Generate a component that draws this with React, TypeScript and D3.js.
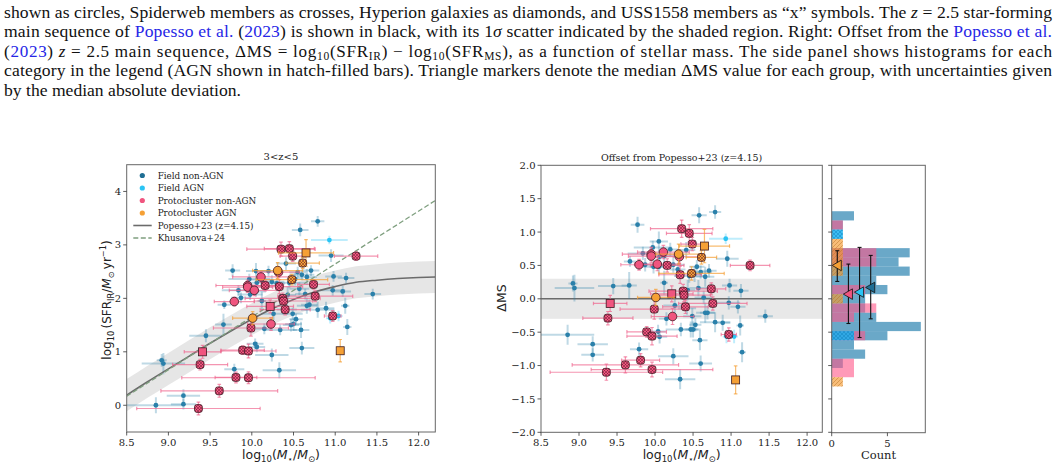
import React from "react";
import * as d3 from "d3";

// [mass, massErr, log SFR, dMS, yErr]
type Pt = [number, number, number, number, number];
// [mass, massErr, log SFR, dMS, yErr, shape]  c = circle, s = square, x = hatched
type PcPt = [number, number, number, number, number, string];

const fieldNonAgn: Pt[] = [
  [9.77, 0.09, 2.52, 1.11, 0.12], [10.58, 0.1, 3.28, 1.25, 0.12], [10.79, 0.08, 3.44, 1.3, 0.1],
  [10.05, 0.12, 2.51, 0.86, 0.15], [9.97, 0.25, 2.36, 0.77, 0.1], [10.2, 0.1, 2.51, 0.74, 0.1],
  [9.84, 0.2, 2.15, 0.68, 0.1], [10.12, 0.15, 2.35, 0.64, 0.12], [10.41, 0.12, 2.65, 0.73, 0.12],
  [9.67, 0.08, 1.88, 0.56, 0.08], [9.87, 0.12, 2.01, 0.51, 0.1], [9.98, 0.15, 2.07, 0.48, 0.1],
  [10.05, 0.12, 2.13, 0.48, 0.1], [10.24, 0.15, 2.31, 0.51, 0.12], [10.55, 0.1, 2.49, 0.48, 0.1],
  [10.95, 0.15, 2.8, 0.6, 0.12], [10.66, 0.12, 2.4, 0.33, 0.15], [10.71, 0.1, 2.52, 0.42, 0.1],
  [10.6, 0.15, 2.44, 0.4, 0.1], [10.45, 0.2, 2.29, 0.34, 0.1], [10.3, 0.1, 2.28, 0.44, 0.1],
  [10.52, 0.1, 2.36, 0.37, 0.12], [8.92, 0.06, 0.84, 0.23, 0.12], [8.94, 0.26, 0.78, 0.16, 0.2],
  [9.45, 0.2, 1.3, 0.19, 0.12], [9.66, 0.1, 1.51, 0.2, 0.2], [10.12, 0.05, 1.95, 0.24, 0.18],
  [10.57, 0.12, 2.18, 0.16, 0.12], [10.98, 0.1, 2.41, 0.2, 0.1], [11.13, 0.1, 2.38, 0.12, 0.1],
  [10.64, 0.12, 2.08, 0.02, 0.1], [10.26, 0.15, 1.71, -0.1, 0.12], [11.09, 0.1, 2.13, -0.12, 0.1],
  [10.97, 0.15, 2.15, -0.06, 0.1], [10.66, 0.12, 1.86, -0.21, 0.15], [10.69, 0.1, 1.88, -0.21, 0.1],
  [11.45, 0.1, 2.08, -0.26, 0.1], [10.49, 0.12, 1.71, -0.26, 0.12], [10.15, 0.1, 1.43, -0.3, 0.1],
  [8.85, 0.35, 0.0, -0.54, 0.15], [9.18, 0.2, 0.18, -0.68, 0.12], [9.18, 0.15, 0.02, -0.84, 0.1],
  [9.79, 0.12, 0.675, -0.755, 0.1], [10.04, 0.1, 1.15, -0.49, 0.1], [10.06, 0.1, 1.09, -0.57, 0.1],
  [10.24, 0.2, 0.94, -0.86, 0.12], [10.33, 0.2, 0.655, -1.205, 0.15], [10.34, 0.2, 1.41, -0.46, 0.1],
  [10.47, 0.1, 1.5, -0.46, 0.12], [10.5, 0.1, 1.52, -0.46, 0.12], [10.53, 0.08, 1.61, -0.39, 0.1],
  [10.59, 0.1, 1.41, -0.62, 0.15], [10.6, 0.15, 1.07, -0.97, 0.12], [10.79, 0.2, 1.785, -0.35, 0.15],
  [10.89, 0.1, 1.815, -0.36, 0.12], [11.12, 0.05, 1.86, -0.4, 0.15], [11.145, 0.05, 1.465, -0.8, 0.15],
  [10.43, 0.1, 2.065, 0.13, 0.15], [10.42, 0.12, 1.79, -0.14, 0.1], [10.06, 0.1, 2.29, 0.63, 0.1],
];

const fieldAgn: Pt[] = [
  [10.93, 0.22, 3.09, 0.9, 0.08],
  [10.94, 0.05, 1.63, -0.565, 0.1],
  [11.04, 0.05, 1.67, -0.565, 0.1],
];

const protoNonAgn: PcPt[] = [
  [10.35, 0.41, 2.92, 1.05, 0.13, "x"], [10.45, 0.3, 2.93, 0.98, 0.13, "x"], [10.49, 0.15, 2.79, 0.82, 0.1, "x"],
  [9.95, 0.38, 2.24, 0.67, 0.1, "c"], [9.95, 0.3, 2.21, 0.64, 0.1, "c"], [10.11, 0.34, 2.4, 0.7, 0.1, "c"],
  [9.79, 0.24, 1.94, 0.51, 0.08, "c"], [10.03, 0.3, 2.15, 0.52, 0.1, "c"], [10.16, 0.22, 2.24, 0.5, 0.1, "x"],
  [10.32, 0.25, 2.49, 0.63, 0.1, "c"], [10.33, 0.28, 2.22, 0.36, 0.13, "x"], [11.25, 0.26, 2.79, 0.5, 0.08, "x"],
  [10.37, 0.45, 2.0, 0.115, 0.1, "x"], [10.38, 0.35, 1.95, 0.055, 0.1, "x"], [10.74, 0.19, 2.26, 0.15, 0.09, "x"],
  [10.22, 0.28, 1.85, 0.075, 0.12, "s"], [9.41, 0.22, 1.0, -0.07, 0.12, "s"], [9.99, 0.45, 1.445, -0.155, 0.15, "x"],
  [10.4, 0.3, 1.79, -0.12, 0.1, "x"], [10.76, 0.45, 2.04, -0.07, 0.1, "x"], [10.23, 0.28, 1.52, -0.265, 0.12, "c"],
  [9.38, 0.33, 0.76, -0.29, 0.1, "x"], [9.89, 0.26, 1.03, -0.495, 0.08, "x"], [9.96, 0.33, 1.015, -0.56, 0.13, "x"],
  [10.97, 0.1, 1.67, -0.535, 0.1, "x"], [9.61, 0.7, 0.27, -0.99, 0.12, "x"], [9.81, 0.25, 0.52, -0.92, 0.1, "x"],
  [9.36, 0.74, -0.06, -1.1, 0.12, "x"], [9.96, 0.8, 0.515, -1.06, 0.11, "x"],
];

const protoAgn: PcPt[] = [
  [10.65, 0.33, 2.85, 0.79, 0.25, "s"], [10.31, 0.3, 2.52, 0.67, 0.15, "c"], [10.61, 0.2, 2.66, 0.62, 0.1, "x"],
  [10.48, 0.43, 2.35, 0.38, 0.1, "x"], [10.01, 0.24, 1.63, 0.02, 0.12, "c"], [11.06, 0.03, 1.02, -1.215, 0.21, "s"],
];

// Popesso+23 main sequence at z=4.15
const msMass = [8.5, 8.75, 9.0, 9.25, 9.5, 9.75, 10.0, 10.25, 10.5, 10.75, 11.0, 11.25, 11.5, 11.75, 12.0, 12.2];
const msSfr = [0.19, 0.44, 0.68, 0.92, 1.16, 1.39, 1.61, 1.81, 1.98, 2.12, 2.22, 2.3, 2.34, 2.37, 2.39, 2.4];
const msScatter = 0.3;
// Khusanova+24 relation
const khMass = [8.5, 12.2];
const khSfr = [0.17, 3.83];

const massTicks = [8.5, 9.0, 9.5, 10.0, 10.5, 11.0, 11.5, 12.0];
const sfrTicks = [0, 1, 2, 3, 4];
const dmsTicks = [-2, -1.5, -1, -0.5, 0, 0.5, 1, 1.5, 2];
const countTicks = [0, 5];

// side histogram (shared bin edges, top to bottom) and counts per group
const histEdges = [1.312, 1.174, 1.036, 0.897, 0.759, 0.621, 0.483, 0.345, 0.207, 0.069, -0.069,
  -0.207, -0.346, -0.484, -0.622, -0.76, -0.898, -1.036, -1.175, -1.313];
const histFieldNonAgn = [2, 1, 0, 0, 7, 6, 7, 4, 5, 3, 3, 4, 8, 5, 2, 3, 1, 0, 0];
const histFieldAgn = [0, 0, 1, 0, 0, 0, 0, 0, 0, 0, 0, 0, 0, 2, 0, 0, 0, 0, 0];
const histProtoNonAgn = [0, 1, 0, 0, 4, 4, 0, 0, 3, 0, 4, 2, 0, 3, 0, 0, 2, 2, 0];
const histProtoAgn = [0, 0, 0, 1, 1, 1, 1, 0, 0, 1, 0, 0, 0, 0, 0, 0, 0, 0, 1];

// medians with MAD (order: protocluster AGN, protocluster non-AGN, field AGN, field non-AGN)
const medianCount = [0.5, 1.5, 2.5, 3.5];
const medianDms = [0.5, 0.07, 0.1, 0.17];
const medianLo = [0.26, -0.37, -0.58, -0.3];
const medianHi = [0.72, 0.52, 0.77, 0.65];

const legendLabels = ["Field non-AGN", "Field AGN", "Protocluster non-AGN", "Protocluster AGN", "Popesso+23 (z=4.15)", "Khusanova+24"];

const C_FIELD = "#2a80aa";
const C_FIELD_LEG = "#1f6e94";
const C_AGN = "#2bc4f4";
const C_PINK = "#f0557f";
const C_ORANGE = "#f5a035";
const EDGE = "#3a1a22";
const SPINE = "#666";
const SERIF = { fontFamily: "DejaVu Serif" };
const SANS = { fontFamily: "DejaVu Sans" };
const TIMES = { fontFamily: "Liberation Serif" };
const LINK = "#2626e6";

const xL = d3.scaleLinear().domain([8.5, 12.2]).range([126.7, 435.3]);
const yL = d3.scaleLinear().domain([-0.5, 4.5]).range([432, 164.7]);
const xR = d3.scaleLinear().domain([8.5, 12.2]).range([541, 822.3]);
const yR = d3.scaleLinear().domain([-2, 2]).range([432.3, 165.3]);
const xH = d3.scaleLinear().domain([0, 8.4]).range([831.7, 925.3]);

const f1 = d3.format(".1f");

type Seg = { t: string; c?: boolean; i?: boolean; sub?: boolean };
const textLines: Seg[][] = [
  [{ t: "shown as circles, Spiderweb members as crosses, Hyperion galaxies as diamonds, and USS1558 members as \u201cx\u201d symbols. The " },
    { t: "z", i: true }, { t: " = 2.5 star-forming" }],
  [{ t: "main sequence of " }, { t: "Popesso et al.", c: true }, { t: " (" }, { t: "2023", c: true },
    { t: ") is shown in black, with its 1" }, { t: "\u03c3", i: true },
    { t: " scatter indicated by the shaded region. Right: Offset from the " }, { t: "Popesso et al.", c: true }],
  [{ t: "(" }, { t: "2023", c: true }, { t: ") " }, { t: "z", i: true }, { t: " = 2.5 main sequence, \u0394MS = log" },
    { t: "10", sub: true }, { t: "(SFR" }, { t: "IR", sub: true }, { t: ") \u2212 log" }, { t: "10", sub: true },
    { t: "(SFR" }, { t: "MS", sub: true }, { t: "), as a function of stellar mass. The side panel shows histograms for each" }],
  [{ t: "category in the legend (AGN shown in hatch-filled bars). Triangle markers denote the median \u0394MS value for each group, with uncertainties given" }],
  [{ t: "by the median absolute deviation." }],
];

function Paragraph() {
  return (
    <g style={TIMES} fontSize={17.6} fill="#111">
      {textLines.map((segs, li) => {
        let shifted = false;
        const justify = li < textLines.length - 1;
        return (
          <text key={li} x={4} y={18 + li * 19.4} fontSize={li === 2 ? 17.1 : undefined}
            {...(justify ? { textLength: 1048, lengthAdjust: "spacing" } : {})}>
            {segs.map((s, si) => {
              let dy = 0;
              if (s.sub && !shifted) { dy = 3.5; shifted = true; }
              else if (!s.sub && shifted) { dy = -3.5; shifted = false; }
              return (
                <tspan key={si} dy={dy || undefined} fill={s.c ? LINK : undefined}
                  fontStyle={s.i ? "italic" : undefined} fontSize={s.sub ? 11.5 : undefined}>
                  {s.t}
                </tspan>
              );
            })}
          </text>
        );
      })}
    </g>
  );
}

function Marker({ x, y, shape, fill }: { x: number; y: number; shape: string; fill: string }) {
  if (shape === "c") return <circle cx={x} cy={y} r={4.3} fill={fill} stroke={EDGE} strokeWidth={0.8} />;
  if (shape === "s") return <rect x={x - 4} y={y - 4} width={8} height={8} fill={fill} stroke={EDGE} strokeWidth={0.8} />;
  return (
    <g>
      <rect x={x - 3.9} y={y - 3.9} width={7.8} height={7.8} rx={2.4} fill={fill} stroke={EDGE} strokeWidth={0.8} />
      <rect x={x - 3.9} y={y - 3.9} width={7.8} height={7.8} rx={2.4} fill="url(#mhatch)" />
    </g>
  );
}

function FieldPoints({ pts, xs, ys, yi, color }: { pts: Pt[]; xs: any; ys: any; yi: number; color: string }) {
  return (
    <g>
      {pts.map((p, i) => {
        const x = xs(p[0]), y = ys(p[yi]);
        return (
          <g key={i} stroke={color} strokeOpacity={0.3} strokeWidth={2}>
            <line x1={xs(p[0] - p[1])} x2={xs(p[0] + p[1])} y1={y} y2={y} />
            <line x1={x} x2={x} y1={ys(p[yi] - p[4])} y2={ys(p[yi] + p[4])} />
          </g>
        );
      })}
      {pts.map((p, i) => (
        <circle key={i} cx={xs(p[0])} cy={ys(p[yi])} r={2.4} fill={color} />
      ))}
    </g>
  );
}

function ProtoPoints({ pts, xs, ys, yi, color, err }: { pts: PcPt[]; xs: any; ys: any; yi: number; color: string; err: string }) {
  return (
    <g>
      {pts.map((p, i) => {
        const x = xs(p[0]), y = ys(p[yi]);
        const x0 = xs(p[0] - p[1]), x1 = xs(p[0] + p[1]);
        const y0 = ys(p[yi] - p[4]), y1 = ys(p[yi] + p[4]);
        return (
          <g key={i} stroke={err} strokeOpacity={0.7} strokeWidth={1.2}>
            <line x1={x0} x2={x1} y1={y} y2={y} />
            <line x1={x} x2={x} y1={y0} y2={y1} />
            <line x1={x0} x2={x0} y1={y - 1.8} y2={y + 1.8} />
            <line x1={x1} x2={x1} y1={y - 1.8} y2={y + 1.8} />
            <line x1={x - 1.8} x2={x + 1.8} y1={y0} y2={y0} />
            <line x1={x - 1.8} x2={x + 1.8} y1={y1} y2={y1} />
          </g>
        );
      })}
      {pts.map((p, i) => (
        <Marker key={i} x={xs(p[0])} y={ys(p[yi])} shape={p[5]} fill={color} />
      ))}
    </g>
  );
}

function Frame({ xs, ys }: { xs: any; ys: any }) {
  const [x0, x1] = xs.range();
  const [y1, y0] = ys.range();
  return <rect x={x0} y={y0} width={x1 - x0} height={y1 - y0} fill="none" stroke={SPINE} strokeWidth={1} />;
}

function XAxis({ xs, y, ticks, fmt }: { xs: any; y: number; ticks: number[]; fmt: (v: number) => string }) {
  return (
    <g>
      {ticks.map((t) => (
        <g key={t}>
          <line x1={xs(t)} x2={xs(t)} y1={y} y2={y + 3.5} stroke="#333" strokeWidth={0.8} />
          <text x={xs(t)} y={y + 14} textAnchor="middle" style={SERIF} fontSize={10} fill="#222">{fmt(t)}</text>
        </g>
      ))}
    </g>
  );
}

function YAxis({ ys, x, ticks, fmt }: { ys: any; x: number; ticks: number[]; fmt?: (v: number) => string }) {
  return (
    <g>
      {ticks.map((t) => (
        <g key={t}>
          <line x1={x - 3.5} x2={x} y1={ys(t)} y2={ys(t)} stroke="#333" strokeWidth={0.8} />
          {fmt && (
            <text x={x - 5.5} y={ys(t) + 3.6} textAnchor="end" style={SERIF} fontSize={10} fill="#222">{fmt(t)}</text>
          )}
        </g>
      ))}
    </g>
  );
}

function MassLabel({ cx }: { cx: number }) {
  return (
    <text x={cx} y={459} textAnchor="middle" style={SANS} fontSize={12.5} fill="#222">
      log<tspan dy={3} fontSize={8.5}>10</tspan><tspan dy={-3}>(</tspan>
      <tspan fontStyle="italic">M</tspan><tspan dy={2.5} fontSize={8.5}>{"\u22c6"}</tspan>
      <tspan dy={-2.5}>/</tspan><tspan fontStyle="italic">M</tspan>
      <tspan dy={2.5} fontSize={8.5}>{"\u2299"}</tspan><tspan dy={-2.5}>)</tspan>
    </text>
  );
}

export default function App() {
  const msLine = d3.line<number>().x((_, i) => xL(msMass[i])).y((d) => yL(d)).curve(d3.curveMonotoneX);
  const msBand = d3.area<number>()
    .x((_, i) => xL(msMass[i]))
    .y0((d) => yL(d - msScatter))
    .y1((d) => yL(d + msScatter))
    .curve(d3.curveMonotoneX);
  const khLine = d3.line<number>().x((_, i) => xL(khMass[i])).y((d) => yL(d));

  const histLayers = [
    { counts: histFieldNonAgn, fill: "#1a79ab", op: 0.65, hatch: null },
    { counts: histProtoNonAgn, fill: "#ff5789", op: 0.6, hatch: null },
    { counts: histFieldAgn, fill: "#18b0f0", op: 0.85, hatch: "url(#hhatchC)" },
    { counts: histProtoAgn, fill: "#f59a30", op: 0.65, hatch: "url(#hhatchO)" },
  ];
  const medianColors = [C_ORANGE, C_PINK, C_AGN, C_FIELD_LEG];
  const tri = d3.symbol(d3.symbolTriangle, 48)() as string;

  const legendY = (i: number) => 178.5 + i * 12.5;
  const legendDots = [C_FIELD_LEG, C_AGN, C_PINK, C_ORANGE];

  return (
    <svg width={1056} height={468} style={{ position: "absolute", left: 0, top: 0, background: "#fff" }}>
      <defs>
        <clipPath id="clipL"><rect x={126.7} y={164.7} width={308.6} height={267.3} /></clipPath>
        <clipPath id="clipR"><rect x={541} y={165.3} width={281.3} height={267} /></clipPath>
        <pattern id="mhatch" patternUnits="userSpaceOnUse" width={3} height={3}>
          <path d="M0,0 L3,3 M3,0 L0,3" stroke="#5a1528" strokeWidth={0.45} />
        </pattern>
        <pattern id="hhatchO" patternUnits="userSpaceOnUse" width={4} height={4}>
          <path d="M0,4 L4,0 M-1,1 L1,-1 M3,5 L5,3" stroke="#b8742a" strokeWidth={0.5} />
        </pattern>
        <pattern id="hhatchC" patternUnits="userSpaceOnUse" width={4} height={4}>
          <path d="M0,4 L4,0 M0,0 L4,4" stroke="#1285c0" strokeWidth={0.5} />
        </pattern>
      </defs>

      <Paragraph />

      {/* left panel */}
      <g clipPath="url(#clipL)">
        <path d={msBand(msSfr) as string} fill="#d6d6d6" fillOpacity={0.6} />
        <FieldPoints pts={fieldNonAgn} xs={xL} ys={yL} yi={2} color={C_FIELD} />
        <FieldPoints pts={fieldAgn} xs={xL} ys={yL} yi={2} color={C_AGN} />
        <path d={msLine(msSfr) as string} fill="none" stroke="#6b6b6b" strokeWidth={1.6} />
        <path d={khLine(khSfr) as string} fill="none" stroke="#7f9f7f" strokeWidth={1.3} strokeDasharray="5,2.5" />
        <ProtoPoints pts={protoNonAgn} xs={xL} ys={yL} yi={2} color={C_PINK} err="#f06890" />
        <ProtoPoints pts={protoAgn} xs={xL} ys={yL} yi={2} color={C_ORANGE} err={C_ORANGE} />
      </g>
      <Frame xs={xL} ys={yL} />
      <XAxis xs={xL} y={432} ticks={massTicks} fmt={f1} />
      <YAxis ys={yL} x={126.7} ticks={sfrTicks} fmt={(v) => String(v)} />
      <text x={281} y={160} textAnchor="middle" style={SERIF} fontSize={10} fill="#222">3&lt;z&lt;5</text>
      <MassLabel cx={281} />
      <text transform="translate(110.5,300) rotate(-90)" textAnchor="middle" style={SANS} fontSize={12} fill="#222">
        log<tspan dy={3} fontSize={8.2}>10</tspan><tspan dy={-3}>{"\u2009(SFR"}</tspan>
        <tspan dy={3} fontSize={8.2}>IR</tspan><tspan dy={-3}>/</tspan>
        <tspan fontStyle="italic">M</tspan><tspan dy={3} fontSize={8.2}>{"\u2299"}</tspan>
        <tspan dy={-3}>{"\u2009yr"}</tspan><tspan dy={-4.5} fontSize={8.2}>{"\u22121"}</tspan><tspan dy={4.5}>)</tspan>
      </text>

      {/* legend */}
      <g style={SERIF} fontSize={8.8} fill="#222">
        {legendLabels.map((lab, i) => (
          <g key={lab}>
            {i < 4 && <circle cx={142.3} cy={legendY(i) - 3} r={2.6} fill={legendDots[i]} />}
            {i === 4 && <line x1={133.3} x2={151.7} y1={legendY(i) - 3} y2={legendY(i) - 3} stroke="#6b6b6b" strokeWidth={1.6} />}
            {i === 5 && <line x1={133.3} x2={151.7} y1={legendY(i) - 3} y2={legendY(i) - 3} stroke="#7f9f7f" strokeWidth={1.3} strokeDasharray="5,2.5" />}
            <text x={157.7} y={legendY(i)}>{lab}</text>
          </g>
        ))}
      </g>

      {/* right panel */}
      <g clipPath="url(#clipR)">
        <rect x={xR(8.5)} width={xR(12.2) - xR(8.5)} y={yR(msScatter)} height={yR(-msScatter) - yR(msScatter)} fill="#d6d6d6" fillOpacity={0.55} />
        <line x1={xR(8.5)} x2={xR(12.2)} y1={yR(0)} y2={yR(0)} stroke="#6b6b6b" strokeWidth={1.6} />
        <FieldPoints pts={fieldNonAgn} xs={xR} ys={yR} yi={3} color={C_FIELD} />
        <FieldPoints pts={fieldAgn} xs={xR} ys={yR} yi={3} color={C_AGN} />
        <ProtoPoints pts={protoNonAgn} xs={xR} ys={yR} yi={3} color={C_PINK} err="#f06890" />
        <ProtoPoints pts={protoAgn} xs={xR} ys={yR} yi={3} color={C_ORANGE} err={C_ORANGE} />
      </g>
      <Frame xs={xR} ys={yR} />
      <XAxis xs={xR} y={432.3} ticks={massTicks} fmt={f1} />
      <YAxis ys={yR} x={541} ticks={dmsTicks} fmt={f1} />
      <text x={681.6} y={161} textAnchor="middle" style={SERIF} fontSize={9.5} fill="#222">Offset from Popesso+23 (z=4.15)</text>
      <MassLabel cx={681.6} />
      <text transform="translate(506,298) rotate(-90)" textAnchor="middle" style={SANS} fontSize={12.5} fill="#222">{"\u0394MS"}</text>

      {/* side histogram */}
      <g>
        {histLayers.map((layer, li) => (
          <g key={li}>
            {layer.counts.map((c, i) => c > 0 && (
              <g key={i}>
                <rect x={xH(0)} width={xH(c) - xH(0)} y={yR(histEdges[i])} height={yR(histEdges[i + 1]) - yR(histEdges[i])}
                  fill={layer.fill} fillOpacity={layer.op} />
                {layer.hatch && (
                  <rect x={xH(0)} width={xH(c) - xH(0)} y={yR(histEdges[i])} height={yR(histEdges[i + 1]) - yR(histEdges[i])}
                    fill={layer.hatch} />
                )}
              </g>
            ))}
          </g>
        ))}
        {medianCount.map((mc, i) => {
          const x = xH(mc);
          return (
            <g key={i}>
              <g stroke="#111" strokeWidth={1.1}>
                <line x1={x} x2={x} y1={yR(medianLo[i])} y2={yR(medianHi[i])} />
                <line x1={x - 2} x2={x + 2} y1={yR(medianLo[i])} y2={yR(medianLo[i])} />
                <line x1={x - 2} x2={x + 2} y1={yR(medianHi[i])} y2={yR(medianHi[i])} />
              </g>
              <path d={tri} transform={`translate(${x + 1},${yR(medianDms[i])}) rotate(-90)`} fill={medianColors[i]} stroke="#111" strokeWidth={0.8} />
            </g>
          );
        })}
      </g>
      <rect x={xH(0)} y={165.3} width={xH(8.4) - xH(0)} height={432.7 - 165.3} fill="none" stroke={SPINE} strokeWidth={1} />
      <XAxis xs={xH} y={432.7} ticks={countTicks} fmt={(v) => String(v)} />
      <YAxis ys={yR} x={xH(0)} ticks={dmsTicks} />
      <text x={878.5} y={458.5} textAnchor="middle" style={SERIF} fontSize={11.5} fill="#222">Count</text>
    </svg>
  );
}
